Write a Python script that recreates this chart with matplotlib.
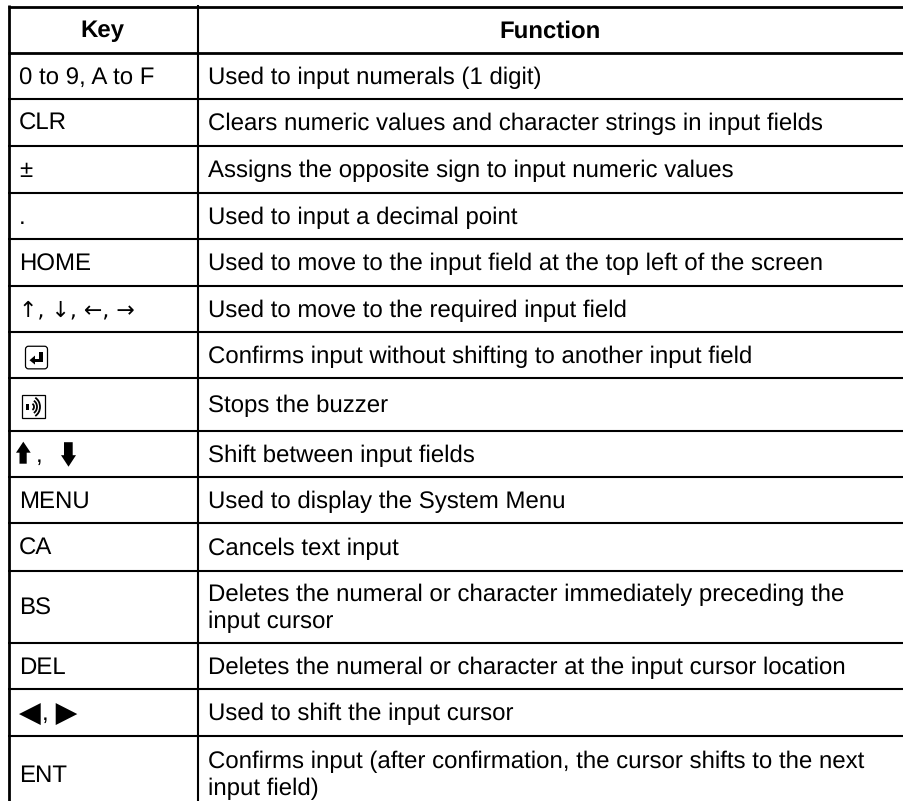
import matplotlib
matplotlib.use('Agg')
import matplotlib.pyplot as plt
from matplotlib.patches import FancyBboxPatch, Polygon, Rectangle, Arc

keys = ['0 to 9, A to F', 'CLR', '±', '.', 'HOME', '↑, ↓, ←, →', '', '', ',',
        'MENU', 'CA', 'BS', 'DEL', ',', 'ENT']
functions = [
    'Used to input numerals (1 digit)',
    'Clears numeric values and character strings in input fields',
    'Assigns the opposite sign to input numeric values',
    'Used to input a decimal point',
    'Used to move to the input field at the top left of the screen',
    'Used to move to the required input field',
    'Confirms input without shifting to another input field',
    'Stops the buzzer',
    'Shift between input fields',
    'Used to display the System Menu',
    'Cancels text input',
    'Deletes the numeral or character immediately preceding the\ninput cursor',
    'Deletes the numeral or character at the input cursor location',
    'Used to shift the input cursor',
    'Confirms input (after confirmation, the cursor shifts to the next\ninput field)',
]
# last row runs off the bottom of the page
row_lines = [6.5, 52.7, 98.7, 145.7, 192.7, 239, 285.7, 331.7, 378, 430.7, 476.7, 523.3, 570.5, 642.7, 688.7, 736, 811]

W, H = 904, 801
FS = 17.1
LINE_H = 26.5

plt.rcParams['font.family'] = ['Liberation Sans', 'DejaVu Sans']
plt.rcParams['text.hinting'] = 'no_hinting'
plt.rcParams['text.hinting_factor'] = 1
fig = plt.figure(figsize=(W / 100, H / 100), dpi=100)
ax = fig.add_axes([0, 0, 1, 1])
ax.set_xlim(0, W)
ax.set_ylim(H, 0)
ax.axis('off')

for i, y in enumerate(row_lines[:-1]):
    lw = 2.0 if i < 2 else 1.5
    ax.plot([8, W], [y, y], color='black', lw=lw, solid_capstyle='butt')
ax.plot([9.5, 9.5], [5, H], color='black', lw=2.0, solid_capstyle='butt')
ax.plot([197.7, 197.7], [5, H], color='black', lw=1.5, solid_capstyle='butt')

ax.text(102, 37.5, 'Key', fontsize=FS, fontweight='bold', ha='center', va='baseline')
ax.text(550, 37.5, 'Function', fontsize=FS, fontweight='bold', ha='center', va='baseline')

comma_x = {8: 36, 13: 42}
for i, (k, f) in enumerate(zip(keys, functions)):
    ym = (row_lines[i + 1] + row_lines[i + 2]) / 2
    if '↑' in k:
        # arrows come out too small in Liberation
        ax.text(19, ym + 8, k, fontsize=15.5, family='DejaVu Sans', ha='left', va='baseline')
    else:
        ax.text(comma_x.get(i, 19), ym + 8, k, fontsize=FS, ha='left', va='baseline')
    lines = f.split('\n')
    y0 = ym + 8 - (len(lines) - 1) * LINE_H / 2
    for j, line in enumerate(lines):
        ax.text(208, y0 + j * LINE_H, line, fontsize=FS, ha='left', va='baseline')

# enter key icon
ym = (row_lines[7] + row_lines[8]) / 2 + 2.7
ax.add_patch(FancyBboxPatch((25.5, ym - 11.3), 22, 22.6, boxstyle='round,pad=0,rounding_size=3',
                            fc='white', ec='black', lw=0.9))
ax.add_patch(Rectangle((39.5, ym - 6), 3.8, 10.5, fc='black', ec='none'))
ax.add_patch(Rectangle((34, ym + 1), 9.3, 3.5, fc='black', ec='none'))
ax.add_patch(Polygon([(29.5, ym + 2.7), (35, ym - 2), (35, ym + 7)], fc='black', ec='none'))

# buzzer icon
ym = (row_lines[8] + row_lines[9]) / 2 + 2.5
ax.add_patch(Rectangle((22.5, ym - 11.5), 23, 23, fc='white', ec='black', lw=0.9))
ax.add_patch(Rectangle((26.5, ym - 3), 2.8, 6, fc='black', ec='none'))
for r in [6, 12, 18]:
    ax.add_patch(Arc((31, ym), r, r * 1.15, theta1=-65, theta2=65, ec='black', lw=1.3))

# shift arrows
ym = (row_lines[9] + row_lines[10]) / 2
ax.add_patch(Polygon([(23.3, ym - 12), (30.7, ym - 1), (26.7, ym - 1), (26.7, ym + 10), (19.5, ym + 10),
                      (19.5, ym - 1), (16, ym - 1)], fc='black', ec='none'))
ax.add_patch(Polygon([(68.5, ym + 13), (76, ym + 1.5), (72.7, ym + 1.5), (72.7, ym - 11.5), (64, ym - 11.5),
                      (64, ym + 1.5), (61, ym + 1.5)], fc='black', ec='none'))

# cursor triangles
ym = (row_lines[14] + row_lines[15]) / 2 + 1.7
ax.add_patch(Polygon([(19, ym), (40.7, ym - 11), (40.7, ym + 11)], fc='black', ec='none'))
ax.add_patch(Polygon([(77.3, ym), (55.7, ym - 11), (55.7, ym + 11)], fc='black', ec='none'))

fig.savefig('out.png', dpi=100)
